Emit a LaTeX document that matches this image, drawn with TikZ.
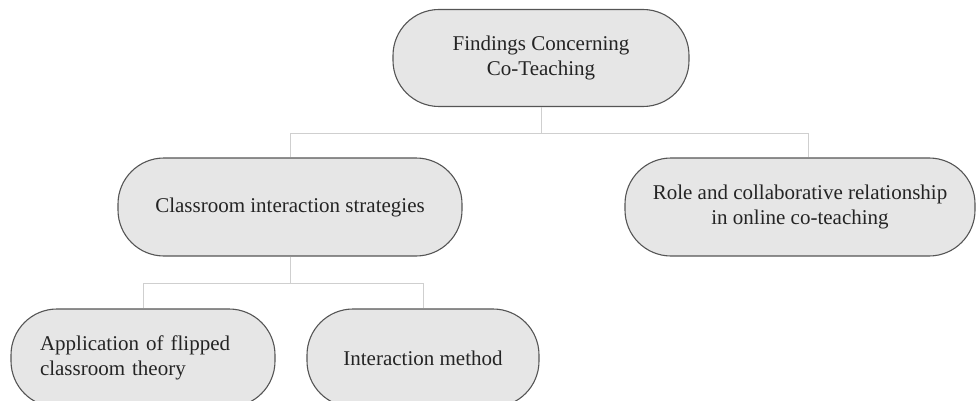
\documentclass[tikz,border=0pt]{standalone}
\usepackage{fontspec}
\setmainfont{Liberation Serif}
\begin{document}
\begin{tikzpicture}[x=1pt,y=-1pt,
  box/.style={draw=boxline, fill=boxfill, line width=1.1pt, rounded corners=46pt,
    text=txt, font=\fontsize{21}{25}\selectfont, align=center, inner sep=0pt},
  link/.style={draw=linkc, line width=1pt}]
\definecolor{boxline}{HTML}{555555}
\definecolor{boxfill}{HTML}{E6E6E6}
\definecolor{linkc}{HTML}{CFCFCF}
\definecolor{txt}{HTML}{242424}
\path[use as bounding box] (0,0) rectangle (976,401);
\clip (0,0) rectangle (976,401);
\node[box, minimum width=296pt, minimum height=97pt] (top) at (541,58) {Findings Concerning\\Co-Teaching};
\node[box, minimum width=344pt, minimum height=98pt] (cls) at (290,207) {Classroom interaction strategies};
\node[box, minimum width=350pt, minimum height=98pt] (role) at (800,207) {Role and collaborative relationship\\in online co-teaching};
\node[box, minimum width=264pt, minimum height=98pt, align=left, text width=206pt] (app) at (143,358) {Application of flipped\\classroom theory};
\node[box, minimum width=232pt, minimum height=98pt] (int) at (423,358) {Interaction method};
\coordinate (rtop) at ([xshift=8pt]role.north);
\draw[link] (top.south) -- ++(0,26) coordinate (j1);
\draw[link] (j1) -| (cls.north);
\draw[link] (j1) -| (rtop);
\draw[link] (cls.south) -- ++(0,27) coordinate (j2);
\draw[link] (j2) -| (app.north);
\draw[link] (j2) -| (int.north);
\end{tikzpicture}
\end{document}
